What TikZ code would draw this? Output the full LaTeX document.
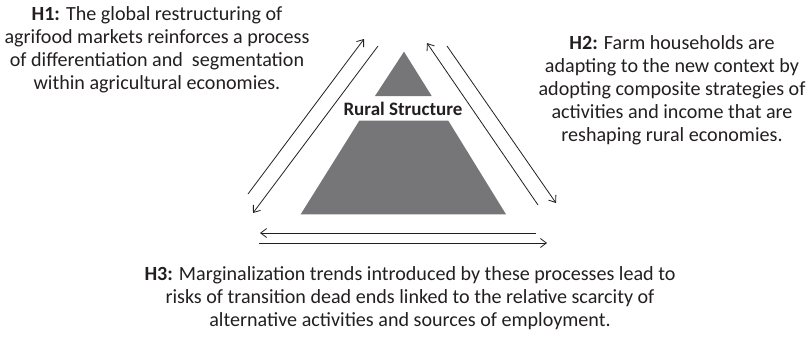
\documentclass[tikz,border=0pt]{standalone}
\usepackage{fontspec}
\setmainfont{Carlito}
\usetikzlibrary{arrows.meta}
\definecolor{pyramid}{RGB}{118,118,120}
\definecolor{ink}{RGB}{35,31,32}
\begin{document}
\begin{tikzpicture}[x=1pt,y=-1pt,
  hyp/.style={align=center, text=ink, font=\fontsize{20.1}{23}\selectfont, inner sep=0pt},
  label/.style={text=ink, font=\bfseries\fontsize{19}{22}\selectfont, inner sep=0pt},
  link/.style={draw=ink, line width=0.8pt, -{Straight Barb[length=6pt,width=9pt]}},
  ]
\useasboundingbox (0,0) rectangle (807,343);

% pyramid: small apex and wide base
\fill[pyramid] (404,51.7) -- (431.7,96) -- (375,96) -- cycle;
\fill[pyramid] (359.3,120.7) -- (448.3,120.7) -- (506,214.3) -- (300.7,214.3) -- cycle;
\node[label] (rs) at (403,109) {Rural Structure};

% hypotheses
\node[hyp] (h1) at (157,50) {\textbf{H1:} The global restructuring of\\agrifood markets reinforces a process\\of differentiation and\ \ segmentation\\within agricultural economies.};
\node[hyp] (h2) at (672,90.5) {\textbf{H2:} Farm households are\\adapting to the new context by\\adopting composite strategies of\\activities and income that are\\reshaping rural economies.};
\node[hyp] (h3) at (410,298) {\textbf{H3:} Marginalization trends introduced by these processes lead to\\risks of transition dead ends linked to the relative scarcity of\\alternative activities and sources of employment.};

% arrow end points
\coordinate (l1a) at (248,194);  \coordinate (l1b) at (364,39);
\coordinate (l2a) at (378,46);   \coordinate (l2b) at (253,213);
\coordinate (r1a) at (538,205);  \coordinate (r1b) at (427,43);
\coordinate (r2a) at (447,46);   \coordinate (r2b) at (556,203);
\coordinate (b1a) at (536,233);  \coordinate (b1b) at (260,233);
\coordinate (b2a) at (259,243);  \coordinate (b2b) at (547,243);

\draw[link] (l1a) -- (l1b);
\draw[link] (l2a) -- (l2b);
\draw[link] (r1a) -- (r1b);
\draw[link] (r2a) -- (r2b);
\draw[link] (b1a) -- (b1b);
\draw[link] (b2a) -- (b2b);
\end{tikzpicture}
\end{document}
